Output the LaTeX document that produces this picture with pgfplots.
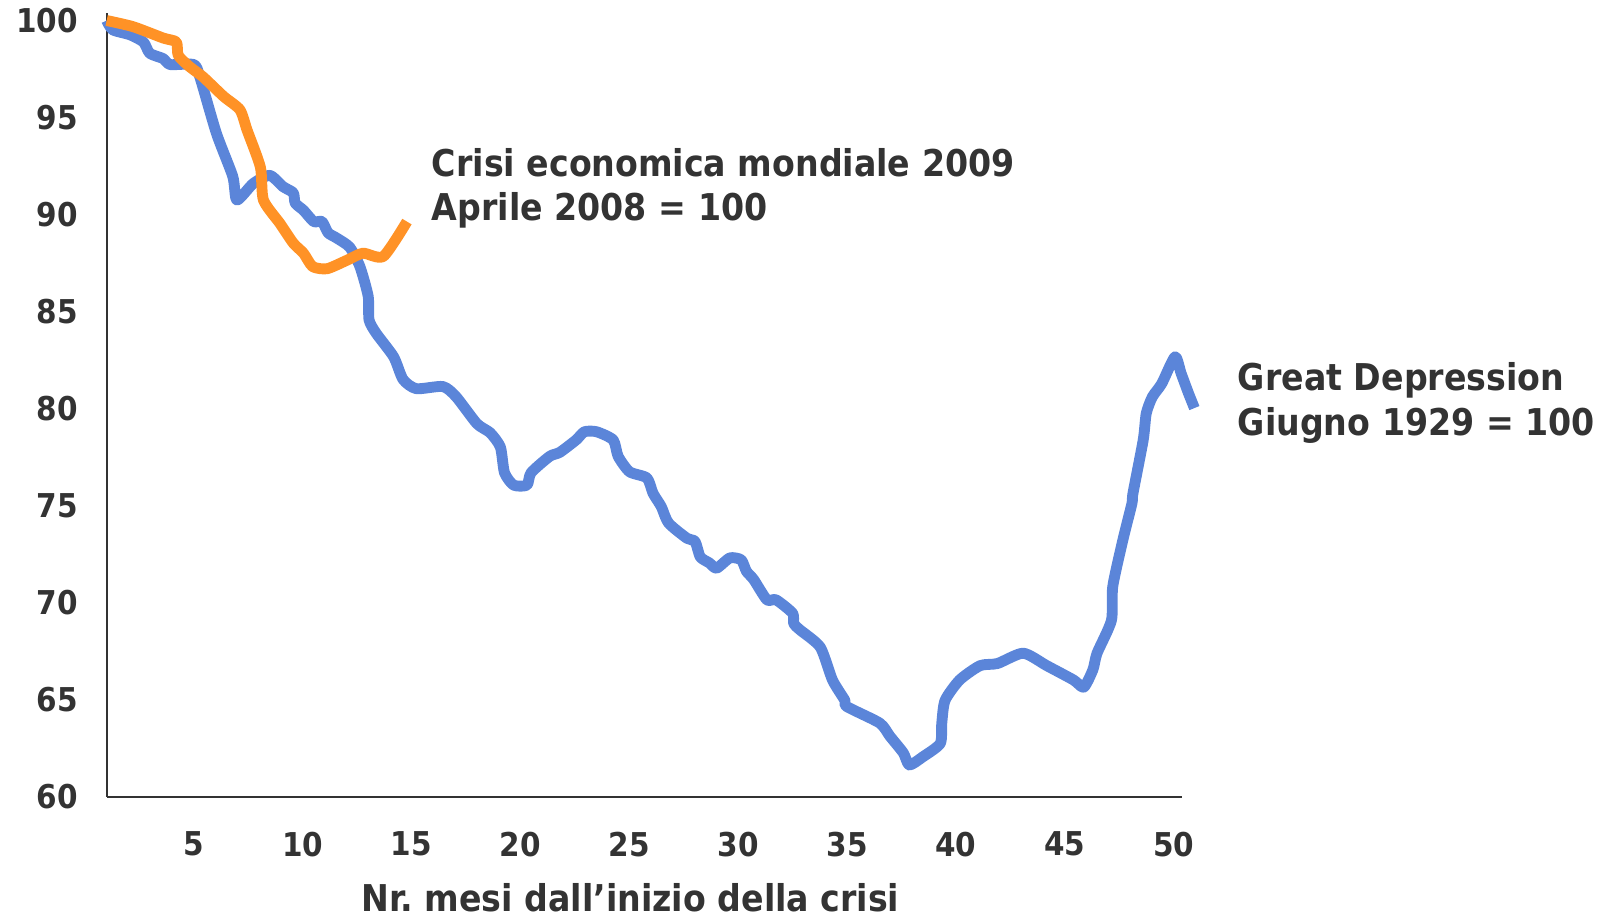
\documentclass[border=0pt]{standalone}
\usepackage{fontspec}
\setmainfont{DejaVu Sans Condensed}
\usepackage{pgfplots}
\pgfplotsset{compat=1.18}
\definecolor{txt}{RGB}{51,51,51}
\definecolor{gdblue}{RGB}{91,133,217}
\definecolor{crorange}{RGB}{255,146,38}
\frenchspacing
\begin{document}
\begin{tikzpicture}
\begin{axis}[
  scale only axis,
  width=524.5pt, height=382pt,
  xmin=1, xmax=50.4, ymin=60, ymax=100.37,
  axis x line=bottom, axis y line=left,
  axis line style={-, draw=black!80, line width=1pt},
  xtick={5,10,...,50}, ytick={60,65,...,100},
  major tick length=0pt,
  /pgf/number format/assume math mode=true,
  tick label style={font=\fontsize{16}{18}\selectfont\bfseries, text=txt},
  xticklabel style={yshift=-13.5pt},
  yticklabel style={xshift=-10.5pt},
  clip=false,
]
\addplot[gdblue, line width=5.3pt, line join=round, line cap=butt, smooth, tension=0.4] coordinates {
(1.00,100.00) (1.28,99.52) (2.08,99.26) (2.69,98.89) (2.98,98.31) (3.59,98.04)
(3.92,97.73) (5.00,97.73) (5.28,97.09) (6.04,94.19) (6.79,91.97) (6.98,90.75)
(7.73,91.60) (8.49,92.02) (9.10,91.44) (9.57,91.12) (9.66,90.59) (10.04,90.22)
(10.51,89.64) (10.89,89.64) (11.17,89.06) (11.55,88.80) (12.16,88.32) (12.63,87.32)
(13.01,85.79) (13.05,84.57) (13.38,83.88) (14.18,82.67) (14.61,81.51) (15.22,81.03)
(16.44,81.14) (17.05,80.61) (18.00,79.23) (18.61,78.76) (19.08,78.02) (19.27,76.70)
(19.69,76.06) (20.30,76.06) (20.49,76.70) (21.34,77.54) (21.81,77.75) (22.56,78.39)
(22.94,78.81) (23.50,78.81) (24.26,78.39) (24.49,77.54) (25.01,76.75) (25.81,76.43)
(26.09,75.64) (26.47,74.95) (26.80,74.11) (27.65,73.32) (28.02,73.16) (28.26,72.36)
(28.68,72.05) (29.01,71.78) (29.62,72.31) (30.14,72.21) (30.38,71.62) (30.71,71.20)
(31.32,70.15) (31.74,70.15) (32.50,69.46) (32.55,68.93) (32.83,68.61) (33.77,67.71)
(34.33,66.02) (34.90,64.97) (34.99,64.65) (36.50,63.80) (36.97,63.12) (37.58,62.27)
(37.86,61.64) (38.48,62.06) (39.28,62.75) (39.35,63.80) (39.50,64.97) (40.17,66.02)
(41.11,66.76) (41.91,66.87) (43.09,67.40) (44.17,66.76) (45.40,66.02) (45.87,65.65)
(46.29,66.55) (46.48,67.40) (47.14,69.09) (47.20,70.83) (47.66,73.21) (48.08,75.11)
(48.13,75.64) (48.60,78.39) (48.74,79.76) (49.02,80.61) (49.45,81.29) (50.06,82.67)
(50.34,81.82) (50.67,80.82) (50.95,80.03)
};
\addplot[crorange, line width=5.3pt, line join=round, line cap=butt, smooth, tension=0.4] coordinates {
(1.00,100.00) (2.22,99.68) (3.59,99.10) (4.20,98.89) (4.29,98.20) (4.81,97.62)
(5.43,97.09) (6.37,96.09) (7.12,95.40) (7.45,94.35) (8.06,92.44) (8.20,90.75)
(8.96,89.54) (9.57,88.53) (10.04,88.01) (10.46,87.32) (11.12,87.21) (12.02,87.64)
(12.77,88.01) (13.71,87.85) (14.79,89.64)
};
\node[anchor=base west, inner sep=0, text=txt, font=\fontsize{18}{21}\selectfont\bfseries] at (axis cs:15.92,91.94) {Crisi economica mondiale 2009};
\node[anchor=base west, inner sep=0, text=txt, font=\fontsize{18}{21}\selectfont\bfseries] at (axis cs:15.92,89.72) {Aprile 2008 = 100};
\node[anchor=base west, inner sep=0, text=txt, font=\fontsize{18}{21}\selectfont\bfseries] at (axis cs:52.93,80.92) {Great Depression};
\node[anchor=base west, inner sep=0, text=txt, font=\fontsize{18}{21}\selectfont\bfseries] at (axis cs:52.93,78.60) {Giugno 1929 = 100};
\node[anchor=north, inner sep=0, text=txt, font=\fontsize{18}{21}\selectfont\bfseries] at (rel axis cs:0.487,0) [yshift=-42pt] {Nr. mesi dall’inizio della crisi};
\end{axis}
\pgfresetboundingbox
\path[use as bounding box] (-52pt,-59pt) rectangle (732pt,388.5pt);
\end{tikzpicture}
\end{document}
